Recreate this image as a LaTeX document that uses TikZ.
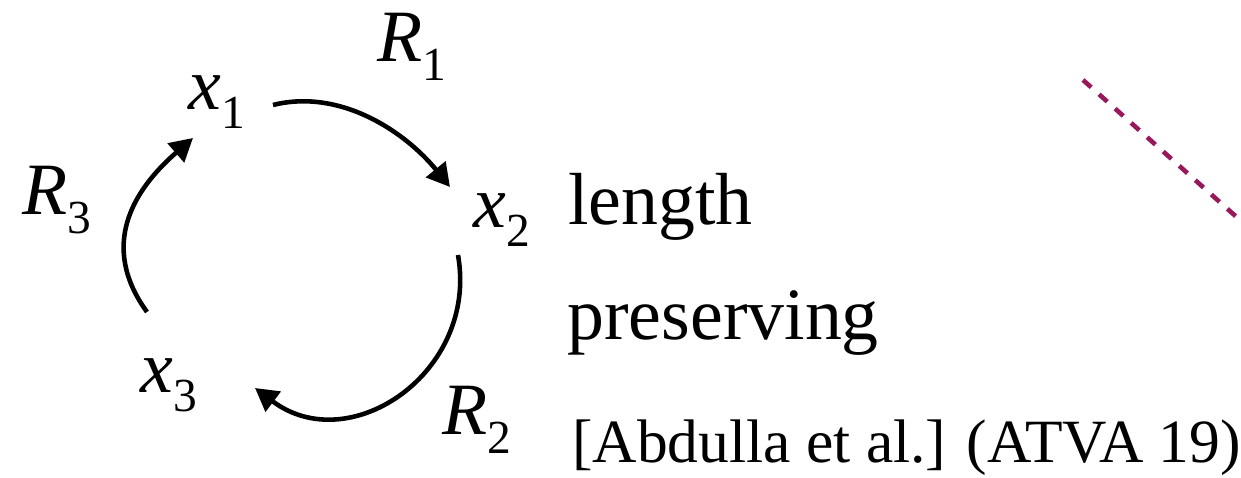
\documentclass[tikz,border=0pt]{standalone}
\usepackage{fontspec}
\setmainfont{Liberation Serif}
\usetikzlibrary{arrows.meta}
\definecolor{plum}{RGB}{152,24,92}
\newcommand{\vsub}[2]{\textit{#1}\raisebox{-0.25em}{\fontsize{27}{30}\selectfont #2}}

\begin{document}
\begin{tikzpicture}[
    lbl/.style={anchor=base west, inner sep=0pt, font=\fontsize{42}{48}\selectfont},
    cite/.style={anchor=base west, inner sep=0pt, font=\fontsize{35}{40}\selectfont},
    relarc/.style={line width=2.6pt, -{Triangle[length=13pt,width=14pt]}}
  ]
  \useasboundingbox (0,0) rectangle (24.82,9.56);
  \node[lbl] (x1) at (3.76,7.36) {\vsub{x}{1}};
  \node[lbl] (x2) at (9.46,5.00) {\vsub{x}{2}};
  \node[lbl] (x3) at (2.80,1.70) {\vsub{x}{3}};
  \node[lbl] (R1) at (7.54,8.32) {\vsub{R}{1}};
  \node[lbl] (R2) at (8.84,0.86) {\vsub{R}{2}};
  \node[lbl] (R3) at (0.44,5.26) {\vsub{R}{3}};
  \node[lbl] (len) at (11.36,5.06) {length};
  \node[lbl] (pres) at (11.34,2.76) {preserving};
  \node[cite] (ref) at (11.44,0.30) {[Abdulla et al.] (ATVA 19)};
  \coordinate (a1) at (5.46,7.46);
  \coordinate (b1) at (9.00,5.82);
  \coordinate (a2) at (9.16,4.46);
  \coordinate (b2) at (5.10,1.80);
  \coordinate (a3) at (2.94,3.32);
  \coordinate (b3) at (3.86,6.80);
  \draw[relarc] (a1) to[out=14,in=129,looseness=0.92] (b1);
  \draw[relarc] (a2) to[out=-80,in=-37,looseness=1.25] (b2);
  \draw[relarc] (a3) to[out=126,in=221,looseness=1.15] (b3);
  % border line, runs off the page
  \coordinate (d1) at (21.66,7.96);
  \coordinate (d2) at (24.82,5.14);
  \draw[plum, line width=2.6pt, dash pattern=on 0.22cm off 0.21cm] (d1) -- (d2);
\end{tikzpicture}
\end{document}
